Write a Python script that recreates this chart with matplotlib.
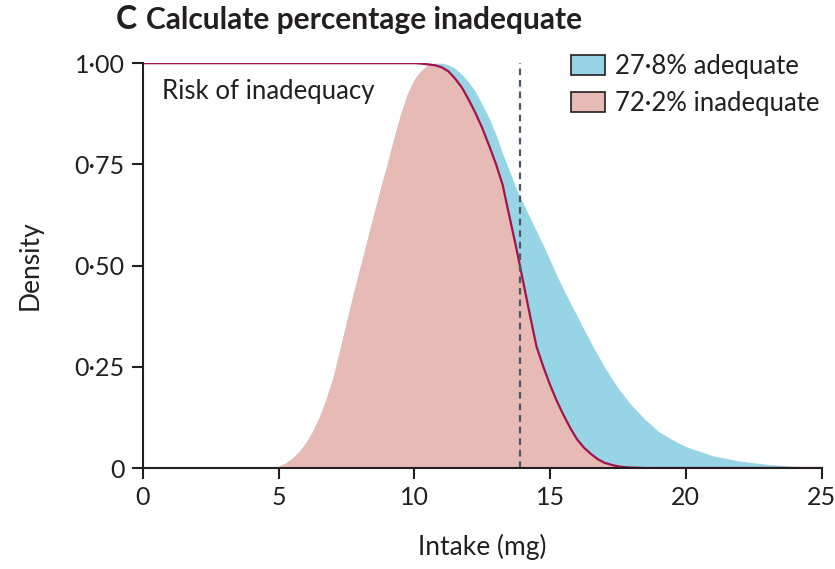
import numpy as np
import matplotlib
matplotlib.use("Agg")
import matplotlib.pyplot as plt
from matplotlib.patches import Patch

plt.rcParams['font.family'] = ['Lato', 'DejaVu Sans']

# intake grid (mg)
intake = [0, 1, 2, 3, 4, 4.75,
          5, 5.25, 5.5, 5.75, 6, 6.25, 6.5, 6.75, 7, 7.25, 7.5, 7.75,
          8, 8.25, 8.5, 8.75, 9, 9.25, 9.5, 9.75, 10, 10.25, 10.5, 10.75,
          11, 11.25, 11.5, 11.75, 12, 12.25, 12.5, 12.75, 13, 13.25, 13.5, 13.75,
          14, 14.25, 14.5, 14.75, 15, 15.25, 15.5, 15.75, 16, 16.25, 16.5, 16.75,
          17, 17.25, 17.5, 17.75, 18,
          18.5, 19, 19.5, 20, 21, 22, 23, 24, 25]
# scaled intake density
density = [0, 0, 0, 0, 0, 0,
           0.004, 0.012, 0.024, 0.04, 0.062, 0.09, 0.126, 0.17,
           0.222, 0.29, 0.36, 0.43, 0.495, 0.56, 0.625, 0.69,
           0.75, 0.815, 0.875, 0.925, 0.96, 0.982, 0.995, 1.0,
           1.0, 0.996, 0.987, 0.972, 0.953, 0.93, 0.898, 0.865,
           0.825, 0.777, 0.735, 0.69, 0.655, 0.62, 0.585, 0.55,
           0.513, 0.475, 0.44, 0.407, 0.375, 0.342, 0.31, 0.28,
           0.25, 0.223, 0.198, 0.176, 0.155,
           0.12, 0.09, 0.07, 0.053, 0.03, 0.017, 0.009, 0.004, 0.002]
# risk of inadequacy at each intake
risk = [1, 1, 1, 1, 1, 1,
        1, 1, 1, 1, 1, 1, 1, 1,
        1, 1, 1, 1, 1, 1, 1, 1,
        1, 1, 1, 1, 1.0, 0.999, 0.997, 0.995,
        0.99, 0.98, 0.962, 0.94, 0.91, 0.877, 0.84, 0.797,
        0.752, 0.70, 0.622, 0.545, 0.463, 0.38, 0.30, 0.25,
        0.205, 0.165, 0.13, 0.098, 0.07, 0.05, 0.035, 0.022,
        0.013, 0.008, 0.004, 0.002, 0.001,
        0, 0, 0, 0, 0, 0, 0, 0, 0]
requirement = 13.9
pct_adequate = "27·8%"
pct_inadequate = "72·2%"

x = np.array(intake)
dens = np.array(density)
rk = np.array(risk)

blue = "#97d4e6"
pink = "#e8bab5"
crimson = "#a3134a"
ink = "#231f20"

fig = plt.figure(figsize=(8.35, 5.69), dpi=100)
ax = fig.add_axes([0.171, 0.1775, 0.813, 0.7115])

ax.fill_between(x, 0, dens, color=blue, lw=0)
ax.fill_between(x, 0, np.minimum(dens, rk), color=pink, lw=0)
ax.plot(x, rk, color=crimson, lw=1.6, solid_capstyle='butt')
ax.plot([requirement, requirement], [0, 1.0], color="#4a5866", lw=1.6,
        ls=(0, (3, 2.2)))

ax.set_xlim(0, 25)
ax.set_ylim(0, 1)
for s in ['top', 'right']:
    ax.spines[s].set_visible(False)
for s in ['left', 'bottom']:
    ax.spines[s].set_color(ink)
    ax.spines[s].set_linewidth(1.5)

ax.set_xticks([0, 5, 10, 15, 20, 25])
ax.set_yticks([0, 0.25, 0.5, 0.75, 1.0])
ax.set_yticklabels(["0", "0·25", "0·50", "0·75", "1·00"])
ax.tick_params(direction='out', length=8, width=1.5, color=ink,
               labelsize=18, labelcolor=ink, pad=5)

ax.set_xlabel("Intake (mg)", fontsize=19, color=ink)
ax.set_ylabel("Density", fontsize=19, color=ink)
ax.xaxis.set_label_coords(0.5, -0.162)
ax.yaxis.set_label_coords(-0.148, 0.5)

ax.text(0.7, 0.93, "Risk of inadequacy", fontsize=18.5, color=ink,
        va='center', ha='left')

fig.text(0.139, 0.966, "C", fontsize=23, fontweight='bold', color=ink,
         va='center', ha='left')
fig.text(0.175, 0.964, "Calculate percentage inadequate", fontsize=21.5,
         fontweight='bold', color=ink, va='center', ha='left')

handles = [Patch(facecolor=blue, edgecolor=ink, lw=1.2),
           Patch(facecolor=pink, edgecolor=ink, lw=1.2)]
fig.legend(handles, [pct_adequate + " adequate", pct_inadequate + " inadequate"],
           loc='upper left', bbox_to_anchor=(0.684, 0.905), frameon=False,
           fontsize=18.5, handlelength=1.3, handleheight=0.8,
           handletextpad=0.4, labelspacing=0.45, borderpad=0,
           borderaxespad=0, labelcolor=ink)

fig.savefig("out.png", dpi=100)
